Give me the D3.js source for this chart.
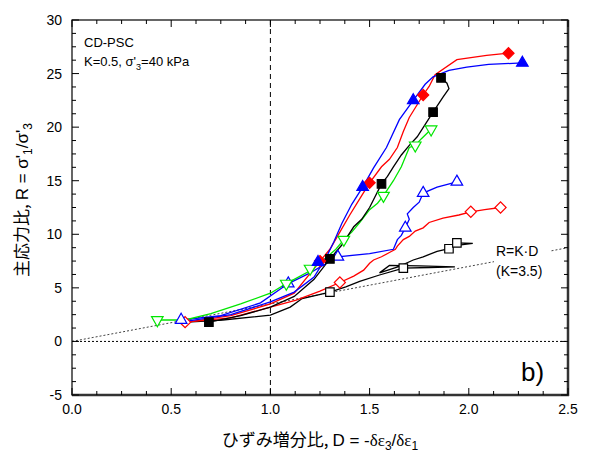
<!DOCTYPE html>
<html>
<head>
<meta charset="utf-8">
<script src="https://cdn.jsdelivr.net/npm/d3@7"></script>
<style>
body { margin: 0; background: #fff; }
svg { font-family: "Liberation Sans", Arial, sans-serif; }
</style>
</head>
<body>
<svg id="chart" width="590" height="455"></svg>
<script>
// axis ticks
var xTicks = [0, 0.5, 1.0, 1.5, 2.0, 2.5];
var yTicks = [-5, 0, 5, 10, 15, 20, 25, 30];
var kValue = 3.5;

// series: [D, R]
var blackOpen = [[0.58,1.8],[0.76,2.0],[1.0,2.45],[1.1,3.2],[1.16,4.0],[1.30,4.6],[1.38,5.1],[1.45,5.6],[1.55,6.2],[1.67,6.85],[1.80,6.9],[1.93,6.95],[1.75,7.05],[1.60,7.1],[1.55,6.4],[1.65,7.0],[1.72,7.6],[1.77,7.9],[1.84,8.4],[1.90,8.65],[1.94,9.2],[2.02,9.15],[1.93,8.95]];
var blackOpenMarks = [[1.30,4.6],[1.67,6.85],[1.90,8.65],[1.94,9.2]];

var redOpen = [[0.57,1.8],[0.8,2.2],[1.0,3.2],[1.13,3.85],[1.25,4.7],[1.35,5.5],[1.42,6.1],[1.47,6.65],[1.50,7.3],[1.52,7.6],[1.56,7.9],[1.60,8.3],[1.63,8.6],[1.64,8.9],[1.67,9.5],[1.70,9.8],[1.73,10.3],[1.77,10.6],[1.80,11.1],[1.87,11.5],[1.95,11.8],[2.01,12.1],[2.08,12.3],[2.16,12.5]];
var redOpenMarks = [[0.57,1.8],[1.35,5.5],[2.01,12.1],[2.16,12.5]];

var blueOpen = [[0.55,2.0],[0.75,2.4],[0.95,3.6],[1.09,5.4],[1.2,6.4],[1.34,7.9],[1.50,8.2],[1.62,8.6],[1.64,9.5],[1.66,9.9],[1.68,10.6],[1.70,11.4],[1.69,11.9],[1.72,12.5],[1.75,13.0],[1.77,13.85],[1.84,14.4],[1.94,14.9]];
var blueOpenMarks = [[0.55,2.0],[1.09,5.4],[1.34,7.9],[1.68,10.6],[1.77,13.85],[1.94,14.9]];

var greenSeries = [[0.43,2.0],[0.57,2.0],[0.70,2.6],[0.85,3.5],[1.0,4.5],[1.08,5.4],[1.20,6.6],[1.28,7.8],[1.33,8.6],[1.37,9.5],[1.41,10.2],[1.45,11.1],[1.50,12.3],[1.54,12.9],[1.57,13.6],[1.62,15.0],[1.66,16.3],[1.70,18.1],[1.73,18.3],[1.76,18.9],[1.81,19.8]];
var greenMarks = [[0.43,2.0],[1.08,5.4],[1.20,6.8],[1.37,9.5],[1.57,13.6],[1.73,18.3],[1.81,19.8]];

var blackFilled = [[0.69,1.8],[0.85,2.4],[1.0,3.2],[1.12,4.2],[1.22,5.8],[1.30,7.7],[1.36,9.0],[1.42,10.7],[1.46,11.4],[1.50,12.5],[1.56,14.7],[1.59,15.4],[1.62,16.3],[1.66,17.4],[1.70,18.3],[1.74,19.1],[1.82,21.4],[1.87,22.8],[1.90,23.6],[1.89,24.1],[1.86,24.6]];
var blackFilledMarks = [[0.69,1.8],[1.30,7.7],[1.56,14.7],[1.82,21.4],[1.86,24.6]];

var redFilled = [[0.58,1.8],[0.8,2.4],[1.0,3.5],[1.12,4.5],[1.25,7.5],[1.30,8.6],[1.35,10.2],[1.40,11.8],[1.45,13.3],[1.50,14.8],[1.56,16.3],[1.60,17.0],[1.64,18.1],[1.67,19.6],[1.70,20.9],[1.77,23.0],[1.80,23.8],[1.83,24.9],[1.94,26.3],[2.09,26.7],[2.20,26.9]];
var redFilledMarks = [[1.25,7.5],[1.50,14.8],[1.77,23.0],[2.20,26.9]];

var blueFilled = [[0.58,1.9],[0.8,2.5],[1.0,3.7],[1.12,4.6],[1.22,6.0],[1.28,7.8],[1.32,9.3],[1.36,11.0],[1.41,12.8],[1.465,14.4],[1.52,16.2],[1.585,18.1],[1.65,20.7],[1.72,22.5],[1.78,24.0],[1.82,24.7],[1.90,25.3],[1.99,25.6],[2.10,25.85],[2.27,26.0]];
var blueFilledMarks = [[1.24,7.4],[1.465,14.4],[1.72,22.5],[2.27,26.0]];

var series = [
    { data: blackOpen, marks: blackOpenMarks, color: "#000", shape: "square", filled: false },
    { data: redOpen, marks: redOpenMarks, color: "#ff0000", shape: "diamond", filled: false },
    { data: blueOpen, marks: blueOpenMarks, color: "#0000ff", shape: "up", filled: false },
    { data: greenSeries, marks: greenMarks, color: "#00e600", shape: "down", filled: false },
    { data: blackFilled, marks: blackFilledMarks, color: "#000", shape: "square", filled: true },
    { data: redFilled, marks: redFilledMarks, color: "#ff0000", shape: "diamond", filled: true },
    { data: blueFilled, marks: blueFilledMarks, color: "#0000ff", shape: "up", filled: true }
];

var svg = d3.select("#chart");
var margin = { left: 72, top: 20, right: 22, bottom: 60 };
var width = 590 - margin.left - margin.right;
var height = 455 - margin.top - margin.bottom;

var x = d3.scaleLinear().domain([0, 2.5]).range([0, width]);
var y = d3.scaleLinear().domain([-5, 30]).range([height, 0]);

var g = svg.append("g").attr("transform", `translate(${margin.left},${margin.top})`);

// minor ticks
var xMinor = d3.range(0, 2.5001, 0.125);
var yMinor = d3.range(-5, 30.001, 1.25);

// reference lines
g.append("line")
    .attr("x1", x(1)).attr("x2", x(1)).attr("y1", 0).attr("y2", height)
    .attr("stroke", "#000").attr("stroke-width", 1).attr("stroke-dasharray", "5,4");
g.append("line")
    .attr("x1", 0).attr("x2", width).attr("y1", y(0)).attr("y2", y(0))
    .attr("stroke", "#000").attr("stroke-width", 1).attr("stroke-dasharray", "2,2");
g.append("line")
    .attr("x1", x(0)).attr("y1", y(0)).attr("x2", x(2.5)).attr("y2", y(2.5 * kValue))
    .attr("stroke", "#444").attr("stroke-width", 1).attr("stroke-dasharray", "2,2");

// label for R=K·D with white box
g.append("rect").attr("x", 422).attr("y", 220).attr("width", 56).attr("height", 42).attr("fill", "#fff");
g.append("text").attr("x", 424).attr("y", 236).attr("font-size", 14).text("R=K\u00b7D");
g.append("text").attr("x", 424).attr("y", 256).attr("font-size", 14).text("(K=3.5)");

// curves
var line = d3.line().x(function (d) { return x(d[0]); }).y(function (d) { return y(d[1]); });

function symPath(shape) {
    if (shape == "square") return d3.symbol(d3.symbolSquare).size(72)();
    if (shape == "diamond") return d3.symbol(d3.symbolSquare).size(62)();
    return d3.symbol(d3.symbolTriangle).size(58)();
}
function symRot(shape) {
    if (shape == "diamond") return 45;
    if (shape == "down") return 180;
    return 0;
}

series.forEach(function (s) {
    g.append("path").datum(s.data)
        .attr("d", line)
        .attr("fill", "none")
        .attr("stroke", s.color)
        .attr("stroke-width", 1.3);
});
series.forEach(function (s) {
    g.selectAll(null).data(s.marks).enter().append("path")
        .attr("d", symPath(s.shape))
        .attr("transform", function (d) { return `translate(${x(d[0])},${y(d[1])}) rotate(${symRot(s.shape)})`; })
        .attr("fill", s.filled ? s.color : "#fff")
        .attr("stroke", s.color)
        .attr("stroke-width", 1.2);
});

// frame
g.append("rect").attr("x", 0).attr("y", 0).attr("width", width).attr("height", height)
    .attr("fill", "none").attr("stroke", "#000").attr("stroke-width", 1.2);
g.append("line").attr("x1", width).attr("x2", width).attr("y1", 0).attr("y2", height + 1)
    .attr("stroke", "#333").attr("stroke-width", 2.5);
g.append("line").attr("x1", 0).attr("x2", width + 1).attr("y1", height).attr("y2", height)
    .attr("stroke", "#333").attr("stroke-width", 2.5);

// inward ticks on all sides
var ticks = g.append("g").attr("stroke", "#000").attr("stroke-width", 1);
xMinor.forEach(function (v) {
    var major = xTicks.some(function (t) { return Math.abs(t - v) < 1e-6; });
    var len = major ? 7 : 4;
    ticks.append("line").attr("x1", x(v)).attr("x2", x(v)).attr("y1", height).attr("y2", height - len);
    ticks.append("line").attr("x1", x(v)).attr("x2", x(v)).attr("y1", 0).attr("y2", len);
});
yMinor.forEach(function (v) {
    var major = yTicks.some(function (t) { return Math.abs(t - v) < 1e-6; });
    var len = major ? 7 : 4;
    ticks.append("line").attr("x1", 0).attr("x2", len).attr("y1", y(v)).attr("y2", y(v));
    ticks.append("line").attr("x1", width).attr("x2", width - len).attr("y1", y(v)).attr("y2", y(v));
});

// tick labels
g.selectAll(".xl").data(xTicks).enter().append("text")
    .attr("x", function (d) { return x(d); }).attr("y", height + 19)
    .attr("text-anchor", "middle").attr("font-size", 14)
    .text(function (d) { return d.toFixed(1); });
g.selectAll(".yl").data(yTicks).enter().append("text")
    .attr("x", -10).attr("y", function (d) { return y(d) + 5; })
    .attr("text-anchor", "end").attr("font-size", 14)
    .text(function (d) { return d; });

// annotations
g.append("text").attr("x", 12).attr("y", 27).attr("font-size", 13).text("CD-PSC");
var ann = g.append("text").attr("x", 12).attr("y", 46).attr("font-size", 13);
ann.append("tspan").text("K=0.5, \u03c3'");
ann.append("tspan").attr("font-size", 9).attr("dy", 4).text("3");
ann.append("tspan").attr("dy", -4).text("=40 kPa");

g.append("text").attr("x", 449).attr("y", 361).attr("font-size", 26).text("b)");

// axis titles
var xt = svg.append("text").attr("x", 320).attr("y", 446).attr("text-anchor", "middle").attr("font-size", 17);
xt.append("tspan").attr("font-family", "'Noto Sans CJK JP'").text("ひずみ増分比, ");
xt.append("tspan").text("D = -");
xt.append("tspan").attr("font-family", "'Liberation Serif'").text("\u03b4\u03b5");
xt.append("tspan").attr("font-size", 12).attr("dy", 4).text("3");
xt.append("tspan").attr("dy", -4).text("/");
xt.append("tspan").attr("font-family", "'Liberation Serif'").text("\u03b4\u03b5");
xt.append("tspan").attr("font-size", 12).attr("dy", 4).text("1");

var yt = svg.append("text").attr("transform", "translate(28,200) rotate(-90)")
    .attr("text-anchor", "middle").attr("font-size", 17);
yt.append("tspan").attr("font-family", "'Noto Sans CJK JP'").text("主応力比, ");
yt.append("tspan").text("R = \u03c3'");
yt.append("tspan").attr("font-size", 12).attr("dy", 4).text("1");
yt.append("tspan").attr("dy", -4).text("/\u03c3'");
yt.append("tspan").attr("font-size", 12).attr("dy", 4).text("3");
</script>
</body>
</html>
